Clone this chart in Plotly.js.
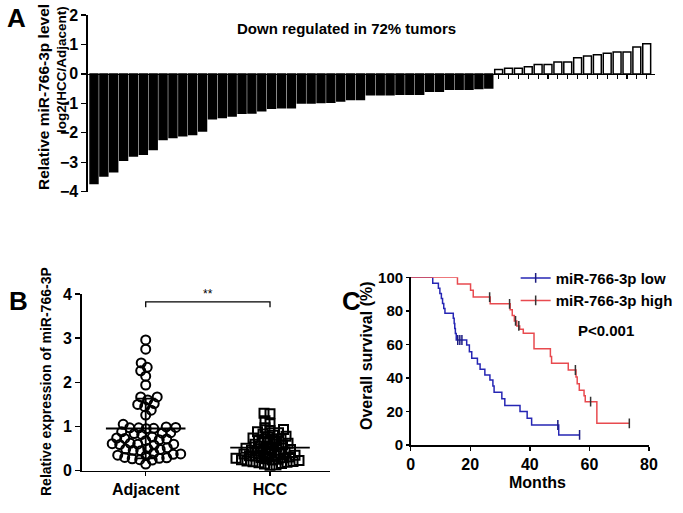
<!DOCTYPE html>
<html>
<head>
<meta charset="utf-8">
<script src="https://cdn.plot.ly/plotly-3.0.1.min.js"></script>
<style>
  html, body { margin: 0; padding: 0; background: #fff; }
  #chart { width: 683px; height: 513px; }
</style>
</head>
<body>
<div id="chart"></div>
<script>
// ---- Panel A: log2(HCC/Adjacent) per patient, sorted ----
const foldChange = [
    -3.72, -3.47, -3.32, -2.93, -2.79, -2.73, -2.57, -2.23, -2.16, -2.10,
    -2.06, -1.94, -1.52, -1.48, -1.43, -1.34, -1.33, -1.25, -1.17, -1.15,
    -1.15, -0.99, -0.99, -0.97, -0.96, -0.92, -0.87, -0.87, -0.71, -0.71,
    -0.71, -0.69, -0.69, -0.69, -0.59, -0.59, -0.52, -0.52, -0.52, -0.50,
    -0.48,
    0.15, 0.19, 0.19, 0.24, 0.32, 0.32, 0.40, 0.40, 0.55, 0.61,
    0.65, 0.70, 0.74, 0.74, 0.91, 1.02
];

// ---- Panel B: relative expression ----
const groupNames = ['Adjacent', 'HCC'];
const adjacentExpr = [
    2.96, 2.75, 2.44, 2.34, 2.26, 2.14, 1.94, 1.67, 1.67, 1.60,
    1.52, 1.50, 1.45, 1.37, 1.26, 1.05, 0.99, 0.98, 0.97, 0.97,
    0.96, 0.95, 0.88, 0.86, 0.85, 0.84, 0.82, 0.76, 0.74, 0.73,
    0.72, 0.70, 0.68, 0.62, 0.61, 0.60, 0.60, 0.59, 0.58, 0.52,
    0.50, 0.49, 0.48, 0.46, 0.45, 0.40, 0.38, 0.37, 0.35, 0.34,
    0.30, 0.29, 0.28, 0.27, 0.25, 0.24, 0.15
];
const hccExpr = [
    1.30, 1.29, 1.13, 1.06, 0.97, 0.93, 0.91, 0.88, 0.86, 0.83,
    0.80, 0.78, 0.76, 0.74, 0.72, 0.70, 0.68, 0.66, 0.64, 0.62,
    0.60, 0.58, 0.56, 0.54, 0.53, 0.51, 0.50, 0.48, 0.46, 0.45,
    0.43, 0.42, 0.40, 0.39, 0.38, 0.36, 0.35, 0.34, 0.33, 0.31,
    0.30, 0.29, 0.28, 0.27, 0.26, 0.25, 0.24, 0.23, 0.22, 0.21,
    0.20, 0.19, 0.18, 0.16, 0.15, 0.13, 0.12
];

// ---- Panel C: Kaplan-Meier steps (months, % surviving) ----
const lowTime = [0, 7.4, 9.3, 9.8, 10.3, 10.7, 11.1, 11.5, 14.3, 14.6, 14.8, 15.0, 15.3,
    18.8, 19.7, 20.5, 22.4, 23.3, 24.9, 26.6, 27.6, 28.0, 30.6, 31.6, 36.7, 39.1, 40.6, 49.7];
const lowSurv = [100, 96.4, 93.4, 90.4, 87.4, 84.4, 81.4, 78.5, 75.5, 72.5, 69.5, 66.5, 62.6,
    59.6, 55.6, 51.7, 48.3, 45.1, 41.7, 38.7, 35.2, 31.5, 27.5, 23.5, 19.9, 15.9, 11.9, 6.0];
const lowCensor = [15.8, 16.5, 17.2, 49.4, 56.7];

const highTime = [0, 15.7, 20.1, 21.0, 26.7, 33.4, 34.1, 34.8, 35.6, 36.6, 37.8, 41.4,
    46.9, 47.3, 52.9, 55.5, 55.9, 56.6, 58.2, 58.6, 62.5];
const highSurv = [100, 96.0, 92.2, 88.2, 84.2, 80.6, 77.2, 74.0, 71.0, 69.0, 66.6, 57.4,
    52.7, 48.7, 44.7, 40.5, 36.5, 32.6, 29.3, 25.8, 12.9];
const highCensor = [26.5, 33.2, 35.2, 36.3, 55.3, 60.4, 73.4];

const FONT = 'Liberation Sans, Arial, sans-serif';
const BLUE = '#2626b4';
const RED = '#e84a4f';

// survival value of a step curve at time t
function survAt(times, survs, t) {
    let s = survs[0];
    for (let i = 0; i < times.length; i++) {
        if (times[i] <= t) s = survs[i];
    }
    return s;
}

// simple beeswarm: horizontal offset (in axis units) for each value
function swarm(values, pxPerX, pxPerY, minDist) {
    const order = values.map((v, i) => i).sort((a, b) => values[a] - values[b]);
    const placed = [];
    const offsets = new Array(values.length).fill(0);
    order.forEach((idx, n) => {
        const yPx = values[idx] * pxPerY;
        let best = 0;
        for (let s = 0; s < 300; s += 0.5) {
            const cands = (n % 2) ? [s, -s] : [-s, s];
            const ok = cands.find(c => placed.every(p => Math.hypot(p.x - c, p.y - yPx) >= minDist));
            if (ok !== undefined) { best = ok; break; }
        }
        placed.push({ x: best, y: yPx });
        offsets[idx] = best / pxPerX;
    });
    return offsets;
}

const mean = arr => arr.reduce((a, b) => a + b, 0) / arr.length;
const sd = arr => {
    const m = mean(arr);
    return Math.sqrt(arr.reduce((a, b) => a + (b - m) * (b - m), 0) / (arr.length - 1));
};

const traces = [];

// Panel A bars
traces.push({
    x: foldChange.map((v, i) => i),
    y: foldChange,
    type: 'bar',
    xaxis: 'x', yaxis: 'y',
    width: 0.8,
    marker: {
        color: foldChange.map(v => v < 0 ? '#000' : '#fff'),
        line: { color: '#000', width: 1.5 }
    },
    showlegend: false,
    hoverinfo: 'none'
});

// Panel B scatter dots
const pxPerX = 124.3, pxPerY = 44.2;
const groups = [adjacentExpr, hccExpr];
const symbols = ['circle-open', 'square-open'];
const spacing = [7.2, 5.6];
groups.forEach((vals, g) => {
    const off = swarm(vals, pxPerX, pxPerY, spacing[g]);
    traces.push({
        x: vals.map((v, i) => g + off[i]),
        y: vals,
        type: 'scatter', mode: 'markers',
        xaxis: 'x2', yaxis: 'y2',
        marker: { symbol: symbols[g], size: 9, color: '#000', line: { width: 2, color: '#000' } },
        showlegend: false, hoverinfo: 'none'
    });
});
// mean lines
groups.forEach((vals, g) => {
    const m = mean(vals);
    traces.push({
        x: [g - 0.32, g + 0.32], y: [m, m],
        type: 'scatter', mode: 'lines',
        xaxis: 'x2', yaxis: 'y2',
        line: { color: '#000', width: 1.8 },
        showlegend: false, hoverinfo: 'none'
    });
});
// SD bars
traces.push({
    x: [0, 1], y: groups.map(mean),
    type: 'scatter', mode: 'markers',
    xaxis: 'x2', yaxis: 'y2',
    marker: { size: 1, color: 'rgba(0,0,0,0)' },
    error_y: { type: 'data', array: groups.map(sd), visible: true, color: '#000', thickness: 1.8, width: 10 },
    showlegend: false, hoverinfo: 'none'
});
// significance bracket
const bracketTop = 3.82, bracketDrop = 0.12;
traces.push({
    x: [0, 0, 1, 1],
    y: [bracketTop - bracketDrop, bracketTop, bracketTop, bracketTop - bracketDrop],
    type: 'scatter', mode: 'lines',
    xaxis: 'x2', yaxis: 'y2',
    line: { color: '#000', width: 1.3 },
    showlegend: false, hoverinfo: 'none'
});

// Panel C survival curves
const curves = [
    { name: 'miR-766-3p low', t: lowTime, s: lowSurv, c: lowCensor, color: BLUE, tick: '#1c1c80' },
    { name: 'miR-766-3p high', t: highTime, s: highSurv, c: highCensor, color: RED, tick: '#333' }
];
curves.forEach(cv => {
    const end = Math.max(...cv.c);
    traces.push({
        x: cv.t.concat([end]),
        y: cv.s.concat([survAt(cv.t, cv.s, end)]),
        type: 'scatter', mode: 'lines',
        xaxis: 'x3', yaxis: 'y3',
        line: { color: cv.color, width: 1.5, shape: 'hv' },
        showlegend: false, hoverinfo: 'none'
    });
    traces.push({
        x: cv.c,
        y: cv.c.map(t => survAt(cv.t, cv.s, t)),
        type: 'scatter', mode: 'markers',
        xaxis: 'x3', yaxis: 'y3',
        marker: { symbol: 'line-ns-open', size: 7, color: cv.tick, line: { color: cv.tick, width: 1.5 } },
        showlegend: false, hoverinfo: 'none'
    });
});
// legend entries
curves.forEach(cv => {
    traces.push({
        x: [null], y: [null],
        type: 'scatter', mode: 'lines+markers',
        xaxis: 'x3', yaxis: 'y3',
        name: cv.name,
        line: { color: cv.color, width: 1.5 },
        marker: { symbol: 'line-ns-open', size: 7, color: cv.tick, line: { color: cv.tick, width: 1.5 } }
    });
});

const axisBase = {
    showline: true, linecolor: '#000', linewidth: 1.6,
    ticks: 'outside', tickcolor: '#000', tickwidth: 1.4, ticklen: 5,
    showgrid: false, zeroline: false,
    tickfont: { family: FONT, size: 16, color: '#000', weight: 'bold' },
    fixedrange: true
};
const titleFont = size => ({ family: FONT, size: size, color: '#000', weight: 'bold' });

const downPct = Math.round(100 * foldChange.filter(v => v < 0).length / foldChange.length);

// text placed in page pixels
const label = (text, x, y, size, angle) => ({
    text: text, xref: 'paper', yref: 'paper',
    x: x / 683, y: 1 - y / 513, xanchor: 'center', yanchor: 'middle',
    textangle: angle || 0, showarrow: false, font: titleFont(size)
});

const layout = {
    width: 683, height: 513,
    margin: { l: 0, r: 0, t: 0, b: 0 },
    paper_bgcolor: '#fff', plot_bgcolor: 'rgba(0,0,0,0)',
    font: { family: FONT, color: '#000', weight: 'bold' },
    showlegend: true,
    // Panel A
    xaxis: Object.assign({}, axisBase, {
        domain: [0.1288, 0.959], range: [-0.61, 56.84],
        anchor: 'free', position: 0.856,
        dtick: 1, tick0: 0, ticklen: 4, tickwidth: 1.2, showticklabels: false
    }),
    yaxis: Object.assign({}, axisBase, {
        domain: [0.6263, 0.9708], range: [-4, 2], dtick: 1, anchor: 'x'
    }),
    // Panel B
    xaxis2: Object.assign({}, axisBase, {
        domain: [0.1196, 0.4836], range: [-0.515, 1.485], anchor: 'y2',
        tickvals: [0, 1], ticktext: groupNames, ticklen: 4
    }),
    yaxis2: Object.assign({}, axisBase, {
        domain: [0.0825, 0.4269], range: [0, 4], dtick: 1, anchor: 'x2'
    }),
    // Panel C
    xaxis3: Object.assign({}, axisBase, {
        domain: [0.6013, 0.9502], range: [0, 80], dtick: 20, anchor: 'y3', ticklen: 4
    }),
    yaxis3: Object.assign({}, axisBase, {
        domain: [0.1326, 0.4595], range: [0, 100], dtick: 20, anchor: 'x3', ticklen: 3,
        tickfont: { family: FONT, size: 15, color: '#000', weight: 'bold' }
    }),
    legend: {
        x: 0.755, xanchor: 'left', y: 0.49, yanchor: 'top',
        bgcolor: 'rgba(0,0,0,0)', borderwidth: 0,
        font: { family: FONT, size: 15, color: '#000', weight: 'bold' },
        tracegroupgap: 0
    },
    annotations: [
        label('A', 16, 18, 26),
        label('B', 18, 301, 26),
        label('C', 351, 301, 26),
        label(`Down regulated in ${downPct}% tumors`, 346, 28, 15),
        label('Relative miR-766-3p level', 43, 97, 15.5, -90),
        label('log2(HCC/Adjacent)', 61, 70, 13.5, -90),
        label('Relative expression of miR-766-3P', 46, 382, 14, -90),
        label('Overall survival (%)', 366, 356, 16, -90),
        label('Months', 537, 482, 16),
        label('P<0.001', 606, 330, 15),
        {
            text: '**', xref: 'paper', yref: 'paper', x: 208 / 683, y: 1 - 294 / 513,
            xanchor: 'center', yanchor: 'middle', showarrow: false,
            font: { family: FONT, size: 12, color: '#000', weight: 'normal' }
        }
    ]
};

Plotly.newPlot('chart', traces, layout, { staticPlot: true, displayModeBar: false });
</script>
</body>
</html>
